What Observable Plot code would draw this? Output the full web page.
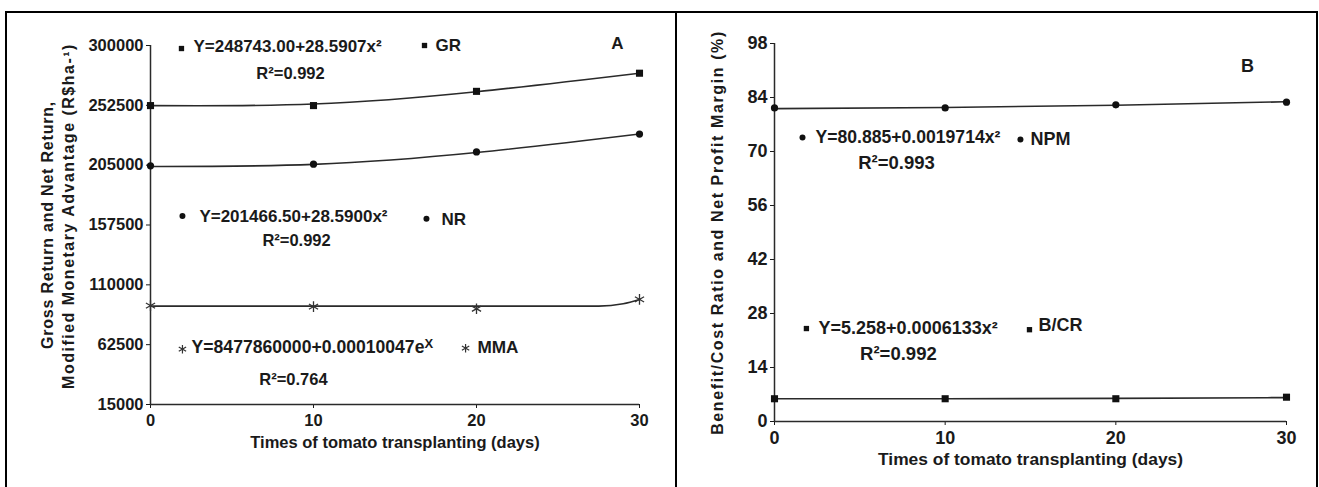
<!DOCTYPE html>
<html><head><meta charset="utf-8">
<script src="https://cdn.jsdelivr.net/npm/d3@7"></script>
<script src="https://cdn.jsdelivr.net/npm/@observablehq/plot@0.6"></script>
<style>
body{margin:0;background:#fff;}
#wrap{position:relative;width:1319px;height:487px;overflow:hidden;background:#fff;}
.panel{position:absolute;top:0;}
#frame{position:absolute;left:5px;top:11px;width:1313px;height:500px;border-top:2px solid #000;border-left:2px solid #000;border-right:2px solid #000;box-sizing:border-box;}
#sep{position:absolute;left:675px;top:11px;width:2px;height:480px;background:#000;}
</style></head><body>
<div id="wrap"><div id="frame"></div><div id="sep"></div><div id="pA" class="panel" style="left:0px"></div><div id="pB" class="panel" style="left:676px"></div></div>
<script>
// ---- data ----
const days = [0, 10, 20, 30];
const grValues = [252300, 252300, 263600, 278000];
const nrValues = [204500, 205800, 215500, 229700];
const mmaValues = [93500, 92700, 91000, 98450];
const grFit = [252300, 253500, 263300, 278000];
const nrFit = [204000, 205600, 215000, 229700];
const mmaFitDays = [0, 10, 20, 27.5, 29, 30];
const mmaFit = [93100, 93100, 93100, 93100, 95000, 98400];
const npmValues = [81.3, 81.3, 82.1, 82.8];
const npmFit = [81.1, 81.4, 82.0, 82.9];
const bcrValues = [5.9, 5.9, 5.9, 6.3];
const bcrFit = [5.9, 5.9, 6.0, 6.2];
const xTicks = [0, 10, 20, 30];
const yTicksA = [15000, 62500, 110000, 157500, 205000, 252500, 300000];
const yTicksB = [0, 14, 28, 42, 56, 70, 84, 98];
const seriesNamesA = ["GR", "NR", "MMA"];
const equationsA = ["Y=248743.00+28.5907x²", "Y=201466.50+28.5900x²", "Y=8477860000+0.00010047e"];
const r2A = ["R²=0.992", "R²=0.992", "R²=0.764"];
const seriesNamesB = ["NPM", "B/CR"];
const equationsB = ["Y=80.885+0.0019714x²", "Y=5.258+0.0006133x²"];
const r2B = ["R²=0.993", "R²=0.992"];
const panelLabels = ["A", "B"];
const xTitle = "Times of tomato transplanting (days)";
const yTitleA = ["Gross Return and Net Return,", "Modified Monetary Advantage (R$ha-¹)"];
const yTitleB = "Benefit/Cost Ratio and Net Profit Margin (%)";

const rows = (xs, ys) => xs.map((x, i) => ({day: x, value: ys[i]}));
const FONT = "'Liberation Sans', Arial, Helvetica, sans-serif";
const INK = "#1a1a1a";
const LINE = "#2a2a2a";
const s0 = 0;

const txt = (s, x, y, size, anchor = "start") =>
  Plot.text([s], {x: x, y: y, text: d => d, fontSize: size, textAnchor: anchor, fill: INK});
const sym = (x, y, symbol, r) =>
  symbol === "asterisk"
    ? Plot.dot([s0], {x: x, y: y, symbol, r, stroke: "#333", strokeWidth: 1.2})
    : Plot.dot([s0], {x: x, y: y, symbol, r, fill: "#111", stroke: "none"});
const yTitle = (s, dx, dy) =>
  Plot.text([s], {frameAnchor: "left", rotate: -90, dx, dy, text: d => d, fontSize: 16, textAnchor: "middle", lineAnchor: "middle", fill: INK});
const xTitleMark = (size) =>
  Plot.text([xTitle], {frameAnchor: "bottom", dy: 38, text: d => d, fontSize: size, textAnchor: "middle", lineAnchor: "middle", fill: INK});

// ---- Panel A ----
const plotA = Plot.plot({
  width: 676, height: 487,
  marginLeft: 150, marginRight: 37, marginTop: 45, marginBottom: 83,
  style: {fontFamily: FONT, fontSize: "16.5px", fontWeight: "bold", color: INK, background: "transparent", overflow: "visible"},
  x: {domain: [0, 30], ticks: xTicks, tickSize: 4, tickPadding: 6, label: null},
  y: {domain: [15000, 300000], ticks: yTicksA, tickFormat: d3.format("d"), tickSize: 4, tickPadding: 3, label: null},
  marks: [
    Plot.ruleX([0], {stroke: LINE, strokeWidth: 1.5}),
    Plot.ruleY([15000], {stroke: LINE, strokeWidth: 1.5}),
    Plot.line(rows(days, grFit), {x: "day", y: "value", curve: "natural", stroke: LINE, strokeWidth: 1.6}),
    Plot.line(rows(days, nrFit), {x: "day", y: "value", curve: "natural", stroke: LINE, strokeWidth: 1.6}),
    Plot.line(rows(mmaFitDays, mmaFit), {x: "day", y: "value", curve: "monotone-x", stroke: LINE, strokeWidth: 1.6}),
    Plot.dot(rows(days, grValues), {x: "day", y: "value", symbol: "square", r: 4, fill: "#111", stroke: "none"}),
    Plot.dot(rows(days, nrValues), {x: "day", y: "value", symbol: "circle", r: 3.6, fill: "#111", stroke: "none"}),
    Plot.dot(rows(days, mmaValues), {x: "day", y: "value", symbol: "asterisk", r: 5, stroke: "#333", strokeWidth: 1.3}),
    // annotations
    sym(1.90, 297600, "square", 3), txt(equationsA[0], 2.64, 299200, 17),
    sym(16.81, 300000, "square", 3), txt(seriesNamesA[0], 17.48, 300000, 17),
    txt(r2A[0], 8.59, 277700, 16.5, "middle"),
    sym(1.96, 164700, "circle", 3), txt(equationsA[1], 3.0, 164000, 17),
    sym(16.93, 162400, "circle", 3), txt(seriesNamesA[1], 17.85, 161600, 17),
    txt(r2A[1], 8.96, 144900, 16.5, "middle"),
    sym(1.96, 58900, "asterisk", 4), txt(equationsA[2], 2.52, 60500, 17.6),
    sym(19.33, 59700, "asterisk", 4), txt(seriesNamesA[2], 20.06, 60500, 17.2),
    txt(r2A[2], 8.77, 35000, 16.5, "middle"),
    txt(panelLabels[0], 28.65, 301600, 17, "middle"),
    // axis titles
    yTitle(yTitleA[0], -103, 0),
    yTitle(yTitleA[1], -82, -9),
    xTitleMark(16.5)
  ]
});

// ---- Panel B ----
const plotB = Plot.plot({
  width: 643, height: 487,
  marginLeft: 98, marginRight: 33, marginTop: 43, marginBottom: 66,
  style: {fontFamily: FONT, fontSize: "18px", fontWeight: "bold", color: INK, background: "transparent", overflow: "visible"},
  x: {domain: [0, 30], ticks: xTicks, tickSize: 4, tickPadding: 6, label: null},
  y: {domain: [0, 98], ticks: yTicksB, tickSize: 4, tickPadding: 3, label: null},
  marks: [
    Plot.ruleX([0], {stroke: LINE, strokeWidth: 1.5}),
    Plot.ruleY([0], {stroke: LINE, strokeWidth: 1.5}),
    Plot.line(rows(days, npmFit), {x: "day", y: "value", curve: "natural", stroke: LINE, strokeWidth: 1.6}),
    Plot.line(rows(days, bcrFit), {x: "day", y: "value", curve: "natural", stroke: LINE, strokeWidth: 1.6}),
    Plot.dot(rows(days, npmValues), {x: "day", y: "value", symbol: "circle", r: 3.6, fill: "#111", stroke: "none"}),
    Plot.dot(rows(days, bcrValues), {x: "day", y: "value", symbol: "square", r: 4, fill: "#111", stroke: "none"}),
    sym(1.64, 73.6, "circle", 3), txt(equationsB[0], 2.40, 73.6, 17.6),
    sym(14.41, 73.1, "circle", 3), txt(seriesNamesB[0], 15.0, 73.1, 18),
    txt(r2B[0], 7.15, 67.1, 18.5, "middle"),
    sym(1.87, 24.1, "square", 3), txt(equationsB[1], 2.58, 24.1, 18),
    sym(14.94, 23.8, "square", 3), txt(seriesNamesB[1], 15.47, 24.9, 18),
    txt(r2B[1], 7.26, 17.6, 18.5, "middle"),
    txt(panelLabels[1], 27.71, 92.0, 18, "middle"),
    yTitle(yTitleB, -57, 0),
    xTitleMark(17.4)
  ]
});

document.getElementById("pA").appendChild(plotA);
document.getElementById("pB").appendChild(plotB);

// fine text styling: letter-spaced axis titles, superscript X in exponential equation
const spacing = new Map([[yTitleA[0], 0.8], [yTitleA[1], 1.5], [yTitleB, 1.6]]);
d3.selectAll("svg text").each(function() {
  const t = this.textContent;
  if (spacing.has(t)) this.setAttribute("letter-spacing", spacing.get(t));
  if (t === equationsA[2]) {
    d3.select(this).append("tspan").attr("dy", "-0.35em").attr("font-size", "13px").text("X");
  }
});
</script>
</body></html>
